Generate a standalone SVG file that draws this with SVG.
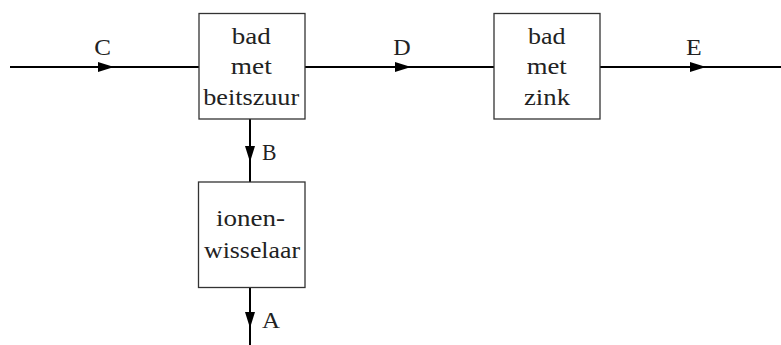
<svg xmlns="http://www.w3.org/2000/svg" width="781" height="345" viewBox="0 0 781 345">
<style>
.box{fill:#fff;stroke:#333;stroke-width:1.3}
.c{stroke:#000;stroke-width:2;fill:none}
.ah{fill:#000}
text{font-family:"Liberation Serif","Times New Roman",serif;font-size:24px;fill:#222}
.m{text-anchor:middle}
</style>
<rect width="781" height="345" fill="#fff"/>
<g id="connectors">
<line class="c" x1="10" y1="67" x2="199" y2="67"/>
<polygon class="ah" points="114,67 98,62 98,72"/>
<line class="c" x1="305" y1="67" x2="494" y2="67"/>
<polygon class="ah" points="411,67 395,62 395,72"/>
<line class="c" x1="600" y1="67" x2="781" y2="67"/>
<polygon class="ah" points="706,67 690,62 690,72"/>
<line class="c" x1="250" y1="119" x2="250" y2="182"/>
<polygon class="ah" points="250,162 245,146 255,146"/>
<line class="c" x1="250" y1="288" x2="250" y2="345"/>
<polygon class="ah" points="250,328 245,312 255,312"/>
<text x="94.3" y="54.5" textLength="16.7" lengthAdjust="spacingAndGlyphs">C</text>
<text x="393.3" y="54.5" textLength="17.4" lengthAdjust="spacingAndGlyphs">D</text>
<text x="686" y="54.5" textLength="15.7" lengthAdjust="spacingAndGlyphs">E</text>
<text x="262" y="160" textLength="14.5" lengthAdjust="spacingAndGlyphs">B</text>
<text x="262" y="327.5" textLength="18" lengthAdjust="spacingAndGlyphs">A</text>
</g>
<g id="bad-beitszuur">
<rect class="box" x="199" y="13.5" width="106" height="105.5"/>
<text class="m" x="251.3" y="43.5" textLength="39" lengthAdjust="spacingAndGlyphs">bad</text>
<text class="m" x="251.3" y="74" textLength="41" lengthAdjust="spacingAndGlyphs">met</text>
<text class="m" x="251.2" y="105" textLength="96" lengthAdjust="spacingAndGlyphs">beitszuur</text>
</g>
<g id="bad-zink">
<rect class="box" x="494" y="13.5" width="106" height="105.5"/>
<text class="m" x="546.7" y="43.5" textLength="37.5" lengthAdjust="spacingAndGlyphs">bad</text>
<text class="m" x="546.8" y="74" textLength="40" lengthAdjust="spacingAndGlyphs">met</text>
<text class="m" x="547" y="105" textLength="46" lengthAdjust="spacingAndGlyphs">zink</text>
</g>
<g id="ionenwisselaar">
<rect class="box" x="198.5" y="182" width="106.5" height="105.5"/>
<text class="m" x="250.5" y="226" textLength="69" lengthAdjust="spacingAndGlyphs">ionen-</text>
<text class="m" x="252" y="257.5" textLength="96" lengthAdjust="spacingAndGlyphs">wisselaar</text>
</g>
</svg>
